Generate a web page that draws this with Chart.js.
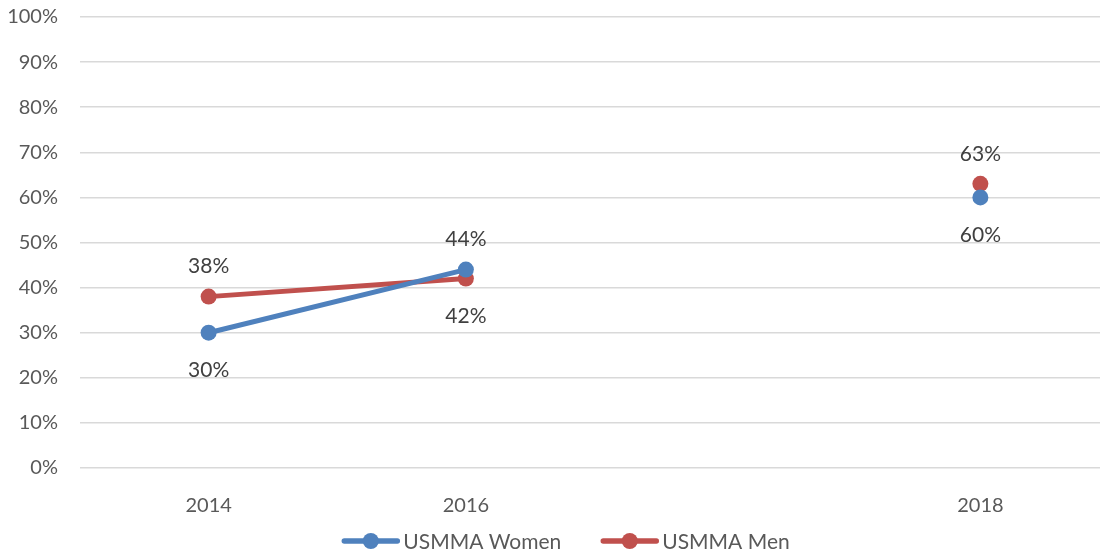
<!DOCTYPE html>
<html>
<head>
<meta charset="utf-8">
<script src="https://cdn.jsdelivr.net/npm/chart.js@4.4.1/dist/chart.umd.min.js"></script>
<style>
  html,body{margin:0;padding:0;background:#fff;overflow:hidden;}
  #wrap{width:1117px;height:552px;}
</style>
</head>
<body>
<div id="wrap"><canvas id="myChart"></canvas></div>
<script>
// data
const years = ['2014', '2016', '', '2018'];
const women = [30, 44, null, 60];
const men = [38, 42, null, 63];
const yTicks = [0, 10, 20, 30, 40, 50, 60, 70, 80, 90, 100];
// where the value label sits, per point (-1 above, 1 below)
const womenSide = [1, -1, 0, 1];
const menSide = [-1, 1, 0, -1];

const blue = '#4f81bd', red = '#c0504d';
const fontFam = 'Lato, "Open Sans", sans-serif';

// value labels + legend drawn by hand
const labelsPlugin = {
    id: 'labelsPlugin',
    afterDatasetsDraw(chart) {
        const ctx = chart.ctx;
        ctx.save();
        ctx.font = '21px ' + fontFam;
        ctx.fillStyle = '#404040';
        ctx.textAlign = 'center';
        ctx.textBaseline = 'middle';
        chart.data.datasets.forEach((ds, di) => {
            const side = di == 0 ? womenSide : menSide;
            chart.getDatasetMeta(di).data.forEach((pt, i) => {
                if (ds.data[i] == null) return;
                const dy = side[i] < 0 ? -30 : 38;
                ctx.fillText(ds.data[i] + '%', pt.x, pt.y + dy);
            });
        });
        ctx.restore();
    },
    afterDraw(chart) {
        const ctx = chart.ctx;
        ctx.save();
        ctx.font = '21px ' + fontFam;
        ctx.textBaseline = 'middle';
        const items = chart.data.datasets.map(ds => ({t: ds.label, c: ds.borderColor, w: ctx.measureText(ds.label).width}));
        const mark = 57, gap = 4, itemGap = 40;
        let total = 0;
        items.forEach((it, i) => { total += mark + gap + it.w + (i ? itemGap : 0); });
        let x = 566 - total / 2;
        const y = 541;
        items.forEach((it, i) => {
            if (i) x += itemGap;
            ctx.strokeStyle = it.c;
            ctx.lineWidth = 5.5;
            ctx.lineCap = 'round';
            ctx.beginPath(); ctx.moveTo(x + 2, y); ctx.lineTo(x + mark - 2, y); ctx.stroke();
            ctx.fillStyle = it.c;
            ctx.beginPath(); ctx.arc(x + mark / 2, y, 8, 0, Math.PI * 2); ctx.fill();
            x += mark + gap;
            ctx.fillStyle = '#595959';
            ctx.fillText(it.t, x, y + 1);
            x += it.w;
        });
        ctx.restore();
    }
};

const ctx = document.getElementById('myChart').getContext('2d');
const myChart = new Chart(ctx, {
    type: 'line',
    data: {
        labels: years,
        datasets: [{
            label: 'USMMA Women',
            data: women,
            borderColor: blue,
            backgroundColor: blue,
            borderWidth: 5,
            pointRadius: 8,
            pointHoverRadius: 8,
            pointBorderWidth: 0,
            spanGaps: false,
            tension: 0,
        }, {
            label: 'USMMA Men',
            data: men,
            borderColor: red,
            backgroundColor: red,
            borderWidth: 5,
            pointRadius: 8,
            pointHoverRadius: 8,
            pointBorderWidth: 0,
            spanGaps: false,
            tension: 0,
        }]
    },
    options: {
        responsive: true,
        maintainAspectRatio: false,
        animation: false,
        layout: {padding: {top: 17, right: 1, left: 0, bottom: 0}},
        plugins: {
            legend: {display: false},
            tooltip: {enabled: false},
        },
        scales: {
            x: {
                offset: true,
                grid: {display: false},
                border: {display: false},
                ticks: {color: '#595959', font: {family: fontFam, size: 20}, padding: 18, maxRotation: 0},
                afterFit: s => { s.height = 84; s.paddingLeft = 0; s.paddingRight = 0; },
            },
            y: {
                min: 0, max: 100,
                afterBuildTicks: s => { s.ticks = yTicks.map(v => ({value: v})); },
                grid: {color: '#d9d9d9', lineWidth: 1.5, drawTicks: false},
                border: {display: false},
                ticks: {color: '#595959', font: {family: fontFam, size: 20}, padding: 22, callback: v => v + '%'},
                afterFit: s => { s.width = 80; s.paddingTop = 0; s.paddingBottom = 0; },
            }
        }
    },
    plugins: [labelsPlugin]
});
</script>
</body>
</html>
